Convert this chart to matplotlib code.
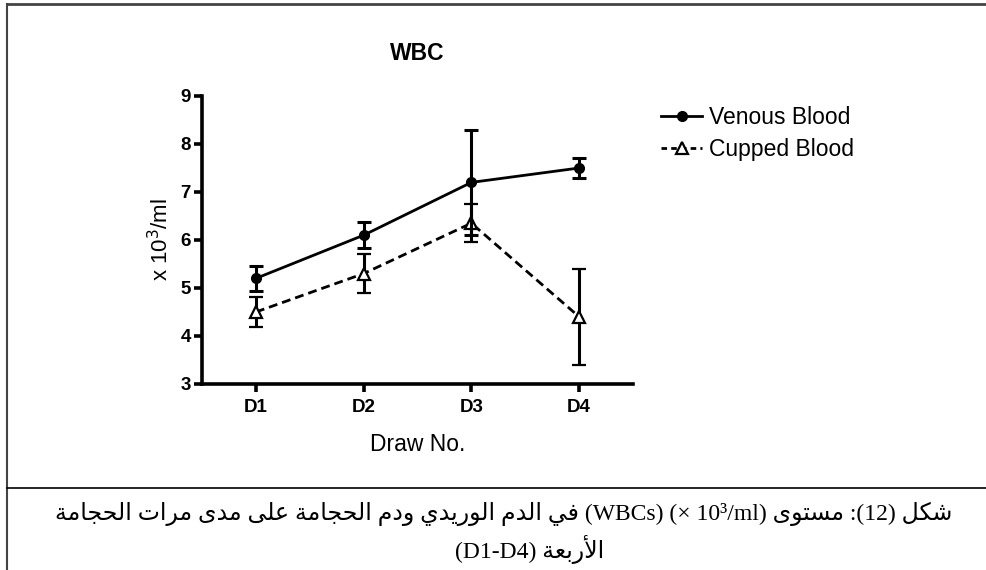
import matplotlib
matplotlib.use("Agg")
import matplotlib.pyplot as plt
from matplotlib.lines import Line2D

# --- Data ---
draws = ["D1", "D2", "D3", "D4"]
venous_mean = [5.2, 6.1, 7.2, 7.5]
venous_err = [0.26, 0.27, 1.1, 0.2]
cupped_mean = [4.5, 5.3, 6.35, 4.4]
cupped_err = [0.32, 0.4, 0.4, 1.0]

# --- tiny Arabic shaper (presentation forms + visual order) ---
FORMS = {
    "ا": ("\uFE8D", "\uFE8E", None, None),
    "أ": ("\uFE83", "\uFE84", None, None),
    "ب": ("\uFE8F", "\uFE90", "\uFE91", "\uFE92"),
    "ة": ("\uFE93", "\uFE94", None, None),
    "ت": ("\uFE95", "\uFE96", "\uFE97", "\uFE98"),
    "ج": ("\uFE9D", "\uFE9E", "\uFE9F", "\uFEA0"),
    "ح": ("\uFEA1", "\uFEA2", "\uFEA3", "\uFEA4"),
    "د": ("\uFEA9", "\uFEAA", None, None),
    "ر": ("\uFEAD", "\uFEAE", None, None),
    "س": ("\uFEB1", "\uFEB2", "\uFEB3", "\uFEB4"),
    "ش": ("\uFEB5", "\uFEB6", "\uFEB7", "\uFEB8"),
    "ع": ("\uFEC9", "\uFECA", "\uFECB", "\uFECC"),
    "ف": ("\uFED1", "\uFED2", "\uFED3", "\uFED4"),
    "ك": ("\uFED9", "\uFEDA", "\uFEDB", "\uFEDC"),
    "ل": ("\uFEDD", "\uFEDE", "\uFEDF", "\uFEE0"),
    "م": ("\uFEE1", "\uFEE2", "\uFEE3", "\uFEE4"),
    "و": ("\uFEED", "\uFEEE", None, None),
    "ى": ("\uFEEF", "\uFEF0", None, None),
    "ي": ("\uFEF1", "\uFEF2", "\uFEF3", "\uFEF4"),
}
LAM_ALEF = {"ا": ("\uFEFB", "\uFEFC"), "أ": ("\uFEF7", "\uFEF8")}


def shape_word(w):
    if w[0] not in FORMS:
        return w
    out, prev_dual, i = [], False, 0
    while i < len(w):
        c = w[i]
        if c == "ل" and i + 1 < len(w) and w[i + 1] in LAM_ALEF:
            iso, fin = LAM_ALEF[w[i + 1]]
            out.append(fin if prev_dual else iso)
            prev_dual = False
            i += 2
            continue
        iso, fin, ini, med = FORMS[c]
        can_next = ini is not None and i + 1 < len(w)
        if prev_dual and can_next:
            out.append(med)
        elif prev_dual:
            out.append(fin)
        elif can_next:
            out.append(ini)
        else:
            out.append(iso)
        prev_dual = ini is not None
        i += 1
    return "".join(reversed(out))


def vis(text):
    return " ".join(shape_word(w) for w in reversed(text.split()))


# caption: "شكل (12): مستوى (× 10³/ml) (WBCs) في الدم الوريدي ودم الحجامة على مدى مرات الحجامة الأربعة (D1-D4)"
line1 = (vis("في الدم الوريدي ودم الحجامة على مدى مرات الحجامة")
         + " (WBCs) (× 10³/ml) " + vis("مستوى") + " :(12) " + vis("شكل"))
line2 = "(D1-D4) " + vis("الأربعة")

W, H = 987, 570
plt.rcParams["font.family"] = ["Liberation Sans", "DejaVu Sans"]
fig = plt.figure(figsize=(W / 100, H / 100), dpi=100)

ax = fig.add_axes([202 / W, 1 - 384 / H, (633 - 202) / W, (384 - 96) / H])
x = list(range(1, len(draws) + 1))

ax.errorbar(x, cupped_mean, yerr=cupped_err, color="black", lw=2,
            dashes=(3.2, 1.8), marker="^", ms=8, mfc="white", mec="black", mew=1.6,
            elinewidth=2.2, capsize=4.8, capthick=2.2, zorder=3)
ax.errorbar(x, venous_mean, yerr=venous_err, color="black", lw=2,
            marker="o", ms=7, mfc="black", mec="black",
            elinewidth=2.2, capsize=4.8, capthick=2.2, zorder=4)

ax.set_xlim(0.5, 4.5)
ax.set_ylim(3, 9)
ax.set_xticks(x)
ax.set_xticklabels(draws)
ax.set_yticks(range(3, 10))
for side in ["top", "right"]:
    ax.spines[side].set_visible(False)
for side in ["left", "bottom"]:
    ax.spines[side].set_linewidth(2.6)
ax.tick_params(width=2.6, length=6, labelsize=13.5)
ax.tick_params(axis="x", pad=5)
ax.tick_params(axis="y", pad=2)
for lab in ax.get_xticklabels() + ax.get_yticklabels():
    lab.set_fontweight("bold")

ax.set_xlabel("Draw No.", fontsize=16.5, labelpad=12)
ax.set_ylabel("x 10$^3$/ml", fontsize=16, labelpad=5)
fig.text(417 / W, 1 - 54 / H, "WBC", ha="center", va="center",
         fontsize=16.5, fontweight="bold")

legend_handles = [
    Line2D([], [], color="black", lw=2, marker="o", ms=7),
    Line2D([], [], color="black", lw=2, dashes=(2, 1.5), marker="^", ms=8,
           mfc="white", mew=1.6),
]
fig.legend(legend_handles, ["Venous Blood", "Cupped Blood"], loc="upper left",
           bbox_to_anchor=(661 / W, 1 - 106 / H), frameon=False,
           borderpad=0, borderaxespad=0, fontsize=16.5,
           handlelength=1.8, handletextpad=0.3, labelspacing=0.4)

# frame lines
fig.add_artist(Line2D([7 / W, 1], [1 - 4 / H, 1 - 4 / H], color="#444444", lw=2))
fig.add_artist(Line2D([7 / W, 7 / W], [0, 1 - 4 / H], color="#444444", lw=1.5))
fig.add_artist(Line2D([7 / W, 1], [1 - 488 / H, 1 - 488 / H], color="black", lw=1.2))

cap_font = ["Liberation Serif", "DejaVu Sans"]
fig.text(504 / W, 1 - 514 / H, line1, ha="center", va="center",
         fontsize=17, family=cap_font)
fig.text(530 / W, 1 - 549 / H, line2, ha="center", va="center",
         fontsize=17, family=cap_font)

fig.savefig("out.png", dpi=100)
